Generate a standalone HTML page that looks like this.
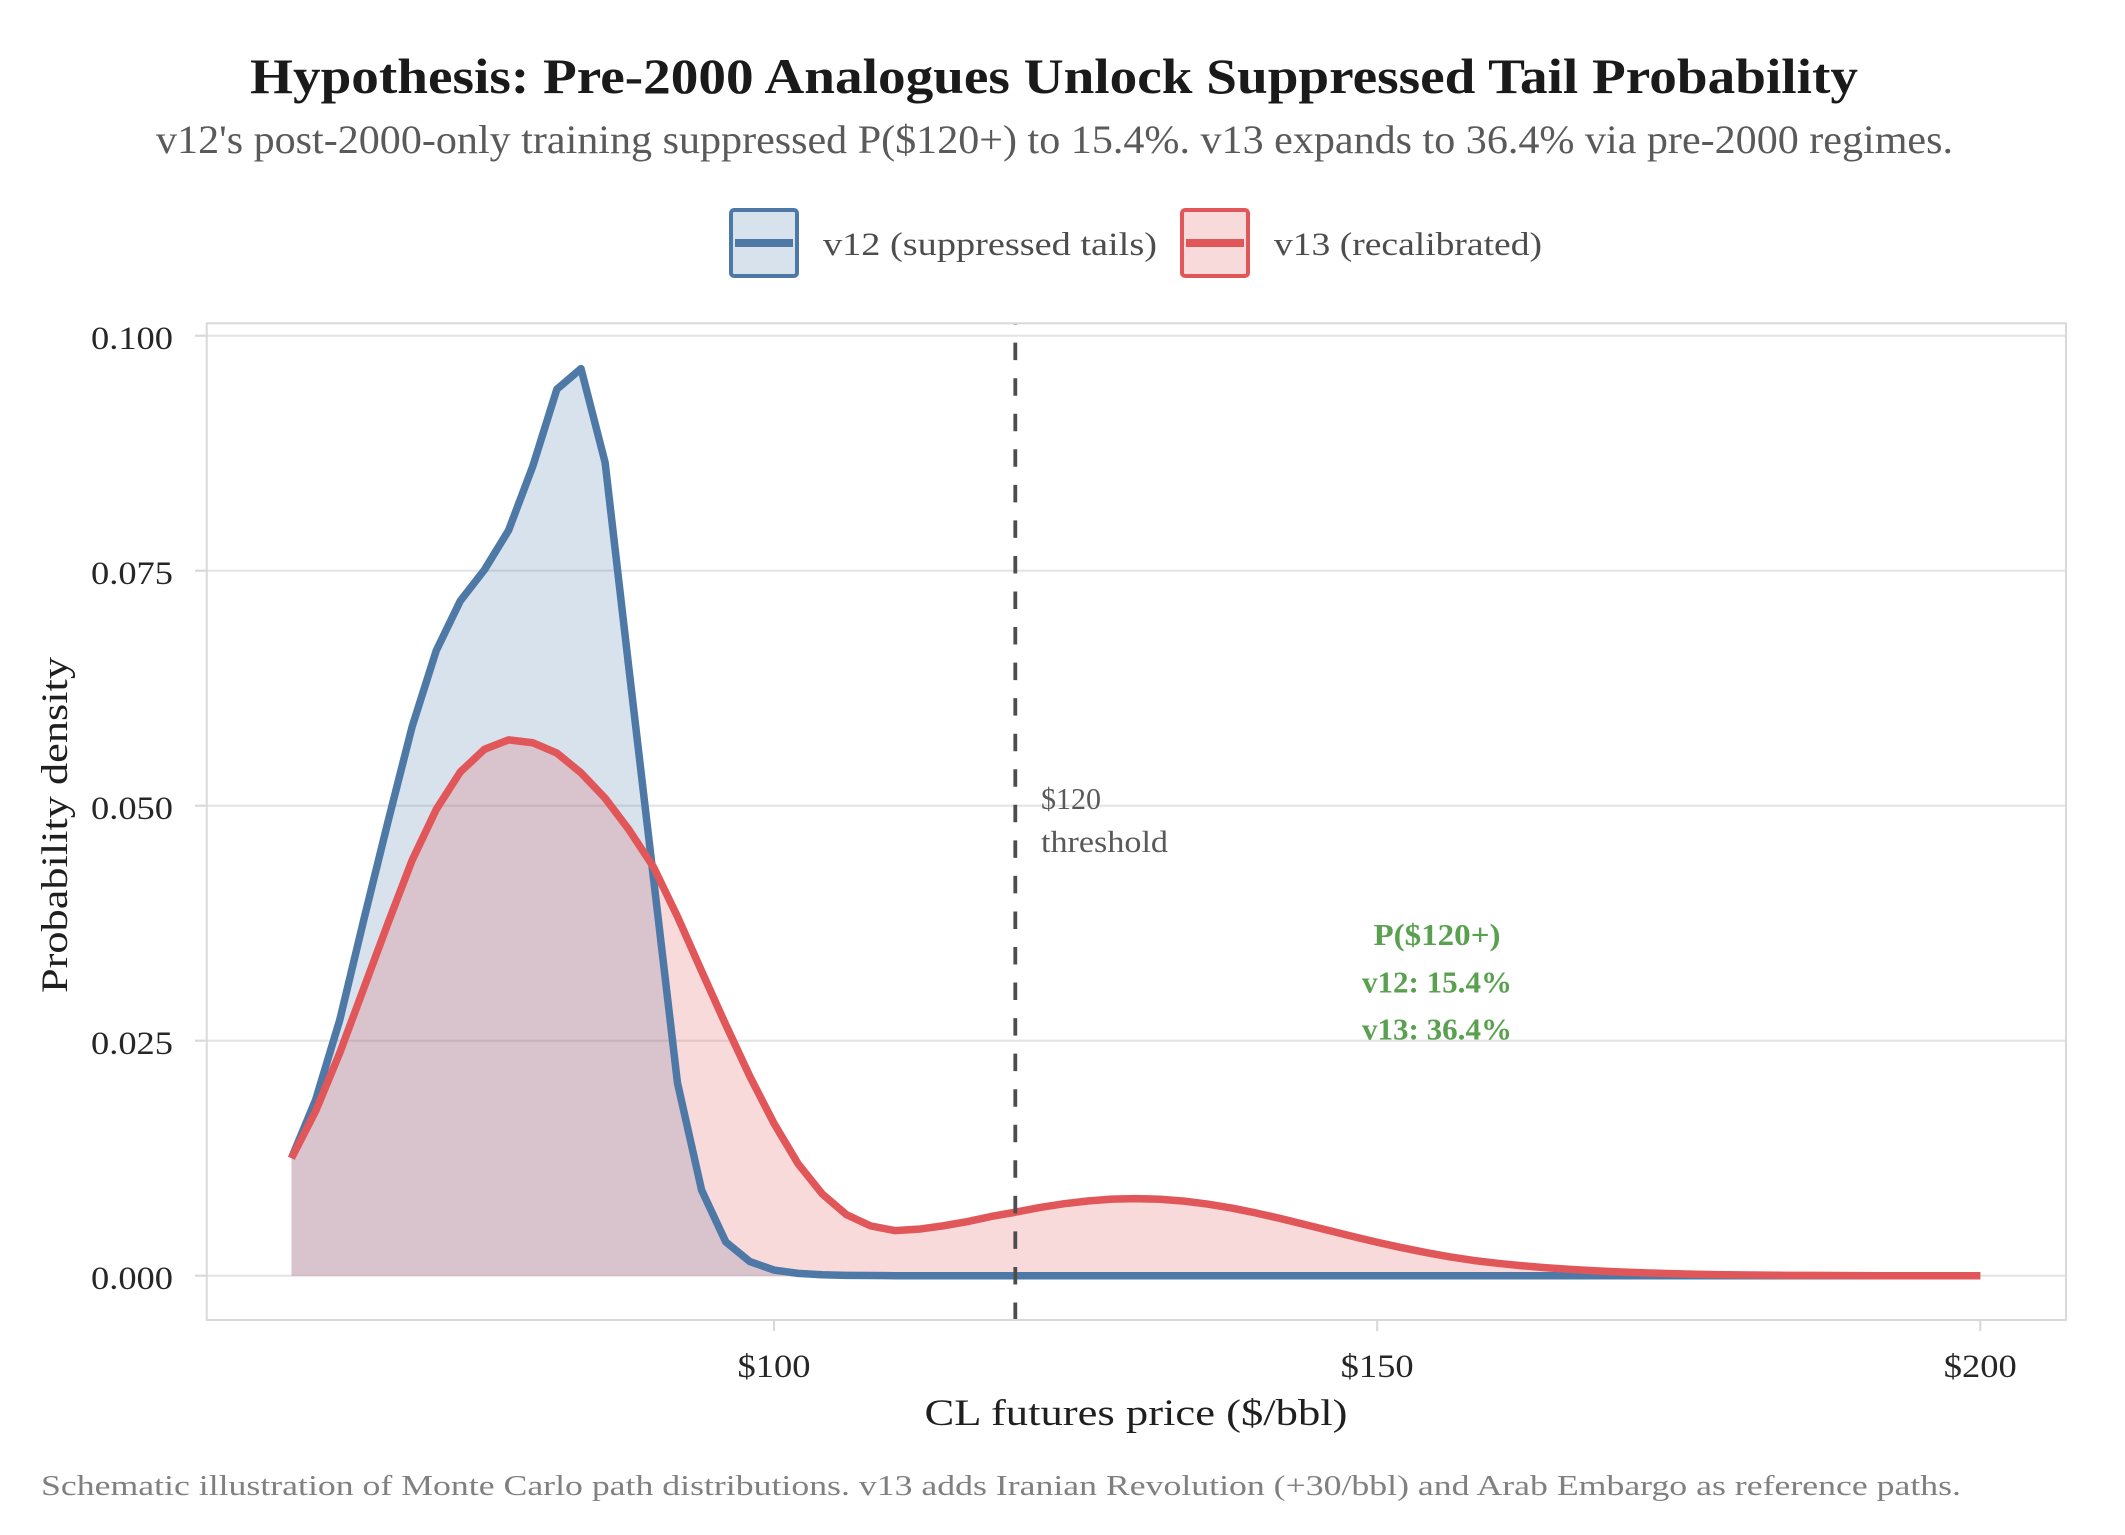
<!DOCTYPE html>
<html>
<head>
<meta charset="utf-8">
<style>
  html, body { margin: 0; padding: 0; background: #ffffff; }
  svg { display: block; }
  text { font-family: "Liberation Serif", "DejaVu Serif", serif; }
</style>
</head>
<body>
<svg width="2125" height="1535" viewBox="0 0 2125 1535" xmlns="http://www.w3.org/2000/svg">
  <rect x="0" y="0" width="2125" height="1535" fill="#ffffff"/>

  <!-- Title & subtitle -->
  <text x="1054" y="93" font-size="50" font-weight="bold" fill="#1a1a1a" text-anchor="middle" textLength="1608" lengthAdjust="spacingAndGlyphs">Hypothesis: Pre-2000 Analogues Unlock Suppressed Tail Probability</text>
  <text x="1054.5" y="153" font-size="40" fill="#5a5a5a" text-anchor="middle" textLength="1797" lengthAdjust="spacingAndGlyphs">v12's post-2000-only training suppressed P($120+) to 15.4%. v13 expands to 36.4% via pre-2000 regimes.</text>

  <!-- Legend -->
  <rect x="731" y="210" width="66" height="66" rx="3" fill="#4e79a7" fill-opacity="0.22" stroke="#4e79a7" stroke-width="4"/>
  <line x1="735" y1="243" x2="793" y2="243" stroke="#4e79a7" stroke-width="8"/>
  <text x="823" y="255" font-size="33" fill="#4d4d4d" textLength="334" lengthAdjust="spacingAndGlyphs">v12 (suppressed tails)</text>
  <rect x="1182" y="210" width="66" height="66" rx="3" fill="#e15759" fill-opacity="0.22" stroke="#e15759" stroke-width="4"/>
  <line x1="1186" y1="243" x2="1244" y2="243" stroke="#e15759" stroke-width="8"/>
  <text x="1274" y="255" font-size="33" fill="#4d4d4d" textLength="268" lengthAdjust="spacingAndGlyphs">v13 (recalibrated)</text>

  <!-- Gridlines -->
  <g stroke="#e4e4e4" stroke-width="2.2">
    <line x1="206.7" y1="335.7" x2="2066" y2="335.7"/>
    <line x1="206.7" y1="570.7" x2="2066" y2="570.7"/>
    <line x1="206.7" y1="805.7" x2="2066" y2="805.7"/>
    <line x1="206.7" y1="1040.7" x2="2066" y2="1040.7"/>
    <line x1="206.7" y1="1275.7" x2="2066" y2="1275.7"/>
  </g>
  <!-- Ticks -->
  <g stroke="#d9d9d9" stroke-width="2.2">
    <line x1="195" y1="335.7" x2="206.7" y2="335.7"/>
    <line x1="195" y1="570.7" x2="206.7" y2="570.7"/>
    <line x1="195" y1="805.7" x2="206.7" y2="805.7"/>
    <line x1="195" y1="1040.7" x2="206.7" y2="1040.7"/>
    <line x1="195" y1="1275.7" x2="206.7" y2="1275.7"/>
    <line x1="774" y1="1320" x2="774" y2="1331"/>
    <line x1="1377.2" y1="1320" x2="1377.2" y2="1331"/>
    <line x1="1980.3" y1="1320" x2="1980.3" y2="1331"/>
  </g>

  <!-- Data (v in $, m = density*1000) -->
  <g transform="matrix(12.063 0 0 -9.40 -432.3 1275.7)">
    <polygon fill="#4e79a7" fill-opacity="0.22" stroke="none"
      points="60,0 60,12.5 62,18.7 64,27.2 66,37.9 68,48.3 70,58.4 72,66.5 74,71.8 76,75.1 78,79.3 80,86.1 82,94.3 84,96.5 86,86.5 88,64.3 90,42.4 92,20.5 94,9.1 96,3.6 98,1.5 100,0.6 102,0.25 104,0.1 106,0.04 108,0.02 110,0 200,0"/>
    <polygon fill="#e15759" fill-opacity="0.22" stroke="none"
      points="60,0 60,12.5 62,17.5 64,23.7 66,30.6 68,37.5 70,44.2 72,49.6 74,53.6 76,56.0 78,57.0 80,56.7 82,55.6 84,53.5 86,50.8 88,47.4 90,43.5 92,38.2 94,32.4 96,26.7 98,21.2 100,16.2 102,11.9 104,8.7 106,6.5 108,5.3 110,4.8 112,4.95 114,5.3 116,5.75 118,6.3 120,6.75 122,7.25 124,7.65 126,7.95 128,8.15 130,8.2 132,8.13 134,7.93 136,7.61 138,7.18 140,6.66 142,6.08 144,5.45 146,4.81 148,4.17 150,3.56 152,2.99 154,2.47 156,2.01 158,1.62 160,1.32 162,1.06 164,0.85 166,0.68 168,0.53 170,0.41 172,0.31 174,0.23 176,0.17 178,0.12 180,0.09 182,0.06 184,0.04 186,0.03 188,0.02 190,0.01 192,0 200,0"/>
    <polyline fill="none" stroke="#4e79a7" stroke-width="7.5" vector-effect="non-scaling-stroke" stroke-linejoin="round" stroke-linecap="butt"
      points="60,12.5 62,18.7 64,27.2 66,37.9 68,48.3 70,58.4 72,66.5 74,71.8 76,75.1 78,79.3 80,86.1 82,94.3 84,96.5 86,86.5 88,64.3 90,42.4 92,20.5 94,9.1 96,3.6 98,1.5 100,0.6 102,0.25 104,0.1 106,0.04 108,0.02 110,0 200,0"/>
    <polyline fill="none" stroke="#e15759" stroke-width="7.5" vector-effect="non-scaling-stroke" stroke-linejoin="round" stroke-linecap="butt"
      points="60,12.5 62,17.5 64,23.7 66,30.6 68,37.5 70,44.2 72,49.6 74,53.6 76,56.0 78,57.0 80,56.7 82,55.6 84,53.5 86,50.8 88,47.4 90,43.5 92,38.2 94,32.4 96,26.7 98,21.2 100,16.2 102,11.9 104,8.7 106,6.5 108,5.3 110,4.8 112,4.95 114,5.3 116,5.75 118,6.3 120,6.75 122,7.25 124,7.65 126,7.95 128,8.15 130,8.2 132,8.13 134,7.93 136,7.61 138,7.18 140,6.66 142,6.08 144,5.45 146,4.81 148,4.17 150,3.56 152,2.99 154,2.47 156,2.01 158,1.62 160,1.32 162,1.06 164,0.85 166,0.68 168,0.53 170,0.41 172,0.31 174,0.23 176,0.17 178,0.12 180,0.09 182,0.06 184,0.04 186,0.03 188,0.02 190,0.01 192,0 200,0"/>
  </g>

  <!-- Threshold line -->
  <line x1="1015.3" y1="1320" x2="1015.3" y2="323.3" stroke="#4d4d4d" stroke-width="3.8" stroke-dasharray="17.5 18.05"/>

  <!-- Panel border -->
  <rect x="206.7" y="323.3" width="1859.3" height="996.7" fill="none" stroke="#d9d9d9" stroke-width="2"/>

  <!-- Annotations -->
  <text x="1041" y="809" font-size="31" fill="#595959" textLength="60" lengthAdjust="spacingAndGlyphs">$120</text>
  <text x="1041" y="852" font-size="31" fill="#595959" textLength="127" lengthAdjust="spacingAndGlyphs">threshold</text>
  <text x="1437" y="945" font-size="31" font-weight="bold" fill="#59a14f" text-anchor="middle" textLength="127" lengthAdjust="spacingAndGlyphs">P($120+)</text>
  <text x="1437" y="992.7" font-size="31" font-weight="bold" fill="#59a14f" text-anchor="middle" textLength="150" lengthAdjust="spacingAndGlyphs">v12: 15.4%</text>
  <text x="1437" y="1039.3" font-size="31" font-weight="bold" fill="#59a14f" text-anchor="middle" textLength="150" lengthAdjust="spacingAndGlyphs">v13: 36.4%</text>

  <!-- Y tick labels -->
  <g font-size="33" fill="#262626" text-anchor="end">
    <text x="173" y="349" textLength="82" lengthAdjust="spacingAndGlyphs">0.100</text>
    <text x="173" y="584" textLength="82" lengthAdjust="spacingAndGlyphs">0.075</text>
    <text x="173" y="819" textLength="82" lengthAdjust="spacingAndGlyphs">0.050</text>
    <text x="173" y="1054" textLength="82" lengthAdjust="spacingAndGlyphs">0.025</text>
    <text x="173" y="1289" textLength="82" lengthAdjust="spacingAndGlyphs">0.000</text>
  </g>
  <!-- X tick labels -->
  <g font-size="33" fill="#262626" text-anchor="middle">
    <text x="774" y="1377" textLength="73" lengthAdjust="spacingAndGlyphs">$100</text>
    <text x="1377.2" y="1377" textLength="73" lengthAdjust="spacingAndGlyphs">$150</text>
    <text x="1980.3" y="1377" textLength="73" lengthAdjust="spacingAndGlyphs">$200</text>
  </g>

  <!-- Axis titles -->
  <text x="1136" y="1425" font-size="37" fill="#1f1f1f" text-anchor="middle" textLength="423" lengthAdjust="spacingAndGlyphs">CL futures price ($/bbl)</text>
  <text transform="translate(67,825) rotate(-90)" x="0" y="0" font-size="37" fill="#1f1f1f" text-anchor="middle" textLength="336" lengthAdjust="spacingAndGlyphs">Probability density</text>

  <!-- Caption -->
  <text x="41" y="1495" font-size="29" fill="#808080" textLength="1920" lengthAdjust="spacingAndGlyphs">Schematic illustration of Monte Carlo path distributions. v13 adds Iranian Revolution (+30/bbl) and Arab Embargo as reference paths.</text>
</svg>
</body>
</html>
